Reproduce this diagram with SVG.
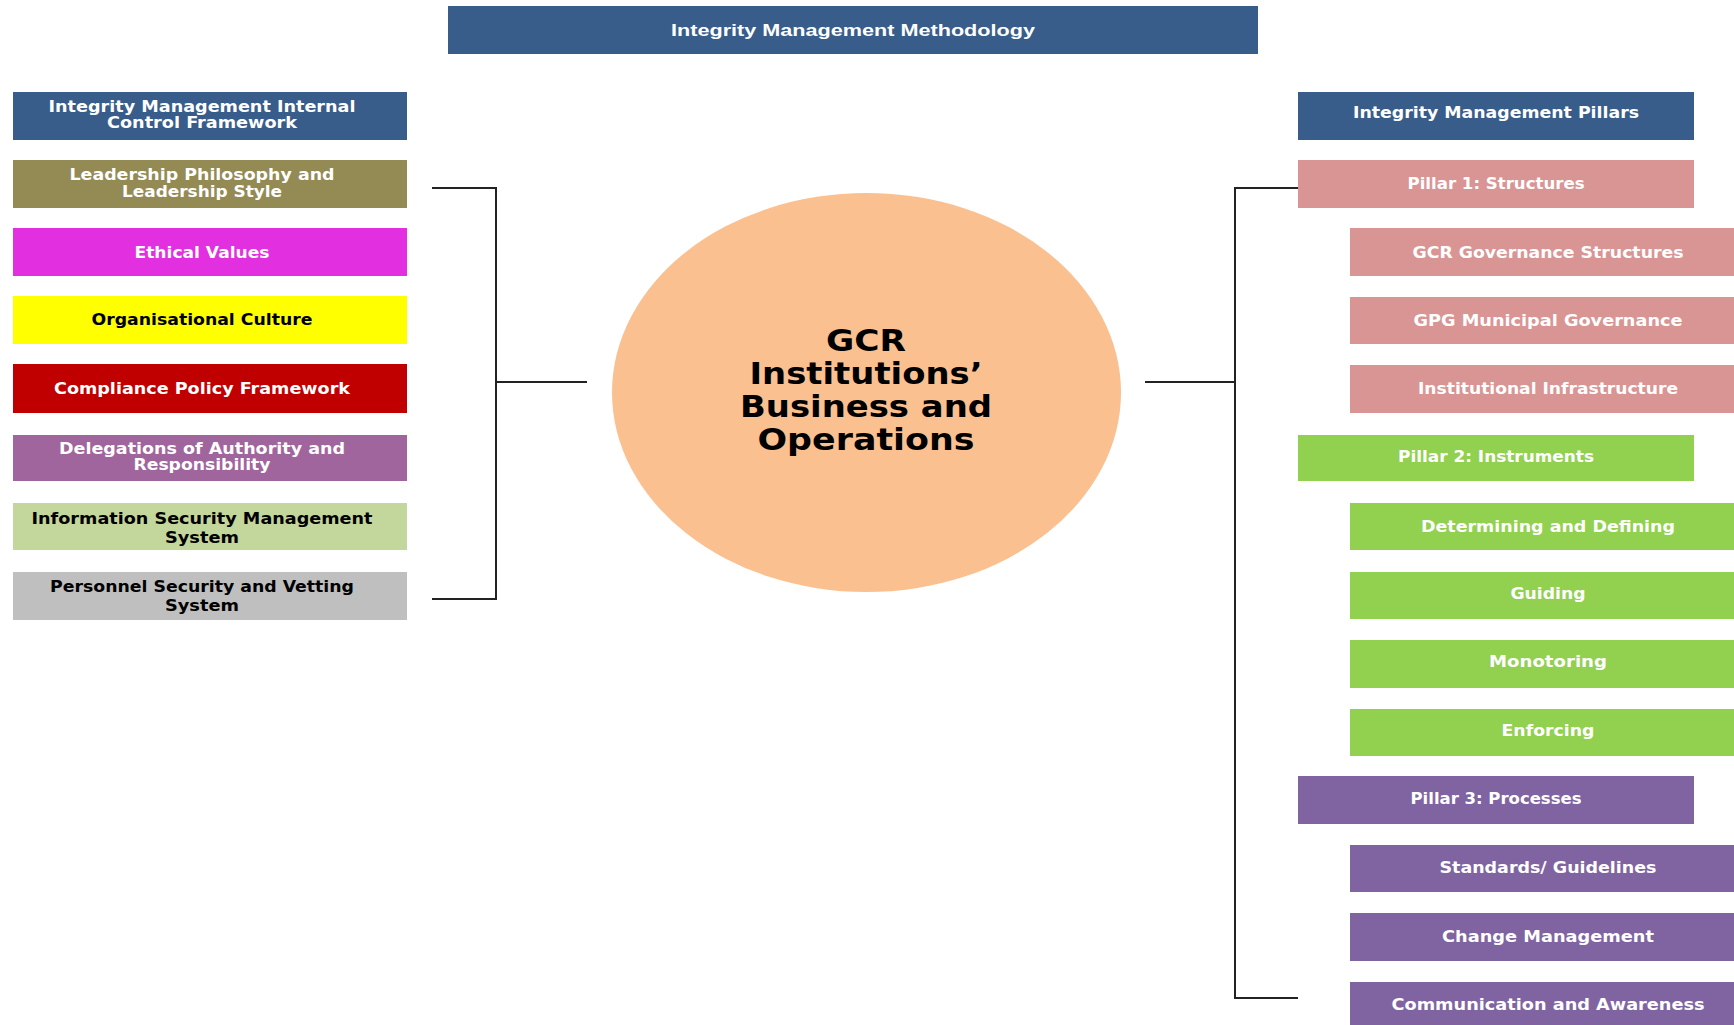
<svg xmlns="http://www.w3.org/2000/svg" width="1734" height="1025" viewBox="0 0 1734 1025">
  <style>
    .lbl { font-family: "DejaVu Sans", "Liberation Sans", sans-serif; font-weight: bold; font-size: 15px; text-anchor: middle; fill: #ffffff; }
    .dark { fill: #000000; }
    .title { font-family: "Liberation Sans", "DejaVu Sans", sans-serif; font-weight: bold; font-size: 17px; text-anchor: middle; fill: #ffffff; }
    .core { font-family: "DejaVu Sans", "Liberation Sans", sans-serif; font-weight: bold; font-size: 30px; text-anchor: middle; fill: #000000; }
    .link { fill: none; stroke: #222222; stroke-width: 2; }
    .navy { fill: #385d8a; }
    .olive { fill: #948a54; }
    .magenta { fill: #e22fdf; }
    .yellow { fill: #ffff00; }
    .red { fill: #c00000; }
    .mauve { fill: #a0659d; }
    .sage { fill: #c3d69b; }
    .grey { fill: #bfbfbf; }
    .rose { fill: #d99594; }
    .green { fill: #92d050; }
    .purple { fill: #8064a2; }
  </style>

  <rect width="1734" height="1025" fill="#ffffff"/>

  <!-- heading -->
  <g id="methodology">
    <rect class="navy" x="448" y="6" width="810" height="48"/>
    <text class="title" x="853" y="36" textLength="364" lengthAdjust="spacingAndGlyphs">Integrity Management Methodology</text>
  </g>

  <!-- central ellipse -->
  <g id="core">
    <ellipse cx="866.5" cy="392.5" rx="254.5" ry="199.5" fill="#fac090"/>
    <text class="core" x="866" y="351" textLength="80" lengthAdjust="spacingAndGlyphs">GCR</text>
    <text class="core" x="866" y="384" textLength="233" lengthAdjust="spacingAndGlyphs">Institutions’</text>
    <text class="core" x="866" y="417" textLength="252" lengthAdjust="spacingAndGlyphs">Business and</text>
    <text class="core" x="866" y="450" textLength="217" lengthAdjust="spacingAndGlyphs">Operations</text>
  </g>

  <!-- connectors -->
  <g id="connectors">
    <path class="link" d="M432 188 H496 V599 H432"/>
    <path class="link" d="M496 382 H587"/>
    <path class="link" d="M1298 188 H1235 V998 H1298"/>
    <path class="link" d="M1145 382 H1235"/>
  </g>

  <!-- left column: internal control framework -->
  <g id="framework">
    <rect class="navy" x="13" y="92" width="394" height="48"/>
    <text class="lbl" x="202" y="112" textLength="307" lengthAdjust="spacingAndGlyphs">Integrity Management Internal</text>
    <text class="lbl" x="202" y="128" textLength="190" lengthAdjust="spacingAndGlyphs">Control Framework</text>
  </g>
  <g id="leadership">
    <rect class="olive" x="13" y="160" width="394" height="48"/>
    <text class="lbl" x="202" y="180" textLength="265" lengthAdjust="spacingAndGlyphs">Leadership Philosophy and</text>
    <text class="lbl" x="202" y="197" textLength="160" lengthAdjust="spacingAndGlyphs">Leadership Style</text>
  </g>
  <g id="ethical-values">
    <rect class="magenta" x="13" y="228" width="394" height="48"/>
    <text class="lbl" x="202" y="257.5" textLength="135" lengthAdjust="spacingAndGlyphs">Ethical Values</text>
  </g>
  <g id="culture">
    <rect class="yellow" x="13" y="296" width="394" height="48"/>
    <text class="lbl dark" x="202" y="325" textLength="221" lengthAdjust="spacingAndGlyphs">Organisational Culture</text>
  </g>
  <g id="compliance">
    <rect class="red" x="13" y="364" width="394" height="49"/>
    <text class="lbl" x="202" y="394" textLength="296" lengthAdjust="spacingAndGlyphs">Compliance Policy Framework</text>
  </g>
  <g id="delegations">
    <rect class="mauve" x="13" y="435" width="394" height="46"/>
    <text class="lbl" x="202" y="453.5" textLength="286" lengthAdjust="spacingAndGlyphs">Delegations of Authority and</text>
    <text class="lbl" x="202" y="470" textLength="137" lengthAdjust="spacingAndGlyphs">Responsibility</text>
  </g>
  <g id="isms">
    <rect class="sage" x="13" y="503" width="394" height="47"/>
    <text class="lbl dark" x="202" y="524" textLength="341" lengthAdjust="spacingAndGlyphs">Information Security Management</text>
    <text class="lbl dark" x="202" y="542.5" textLength="74" lengthAdjust="spacingAndGlyphs">System</text>
  </g>
  <g id="vetting">
    <rect class="grey" x="13" y="572" width="394" height="48"/>
    <text class="lbl dark" x="202" y="592" textLength="304" lengthAdjust="spacingAndGlyphs">Personnel Security and Vetting</text>
    <text class="lbl dark" x="202" y="610.5" textLength="74" lengthAdjust="spacingAndGlyphs">System</text>
  </g>

  <!-- right column: pillars -->
  <g id="pillars">
    <rect class="navy" x="1298" y="92" width="396" height="48"/>
    <text class="lbl" x="1496" y="118" textLength="286" lengthAdjust="spacingAndGlyphs">Integrity Management Pillars</text>
  </g>
  <g id="pillar-1">
    <rect class="rose" x="1298" y="160" width="396" height="48"/>
    <text class="lbl" x="1496" y="188.5" textLength="177" lengthAdjust="spacingAndGlyphs">Pillar 1: Structures</text>
  </g>
  <g id="gcr-governance">
    <rect class="rose" x="1350" y="228" width="396" height="48"/>
    <text class="lbl" x="1548" y="257.5" textLength="271" lengthAdjust="spacingAndGlyphs">GCR Governance Structures</text>
  </g>
  <g id="gpg-governance">
    <rect class="rose" x="1350" y="297" width="396" height="47"/>
    <text class="lbl" x="1548" y="326" textLength="269" lengthAdjust="spacingAndGlyphs">GPG Municipal Governance</text>
  </g>
  <g id="infrastructure">
    <rect class="rose" x="1350" y="365" width="396" height="48"/>
    <text class="lbl" x="1548" y="394" textLength="260" lengthAdjust="spacingAndGlyphs">Institutional Infrastructure</text>
  </g>
  <g id="pillar-2">
    <rect class="green" x="1298" y="435" width="396" height="46"/>
    <text class="lbl" x="1496" y="462" textLength="196" lengthAdjust="spacingAndGlyphs">Pillar 2: Instruments</text>
  </g>
  <g id="defining">
    <rect class="green" x="1350" y="503" width="396" height="47"/>
    <text class="lbl" x="1548" y="532" textLength="254" lengthAdjust="spacingAndGlyphs">Determining and Defining</text>
  </g>
  <g id="guiding">
    <rect class="green" x="1350" y="572" width="396" height="47"/>
    <text class="lbl" x="1548" y="598.5" textLength="75" lengthAdjust="spacingAndGlyphs">Guiding</text>
  </g>
  <g id="monitoring">
    <rect class="green" x="1350" y="640" width="396" height="48"/>
    <text class="lbl" x="1548" y="667" textLength="118" lengthAdjust="spacingAndGlyphs">Monotoring</text>
  </g>
  <g id="enforcing">
    <rect class="green" x="1350" y="709" width="396" height="47"/>
    <text class="lbl" x="1548" y="735.5" textLength="93" lengthAdjust="spacingAndGlyphs">Enforcing</text>
  </g>
  <g id="pillar-3">
    <rect class="purple" x="1298" y="776" width="396" height="48"/>
    <text class="lbl" x="1496" y="803.5" textLength="171" lengthAdjust="spacingAndGlyphs">Pillar 3: Processes</text>
  </g>
  <g id="standards">
    <rect class="purple" x="1350" y="845" width="396" height="47"/>
    <text class="lbl" x="1548" y="873" textLength="217" lengthAdjust="spacingAndGlyphs">Standards/ Guidelines</text>
  </g>
  <g id="change">
    <rect class="purple" x="1350" y="913" width="396" height="48"/>
    <text class="lbl" x="1548" y="942" textLength="212" lengthAdjust="spacingAndGlyphs">Change Management</text>
  </g>
  <g id="communication">
    <rect class="purple" x="1350" y="982" width="396" height="48"/>
    <text class="lbl" x="1548" y="1010" textLength="313" lengthAdjust="spacingAndGlyphs">Communication and Awareness</text>
  </g>
</svg>
